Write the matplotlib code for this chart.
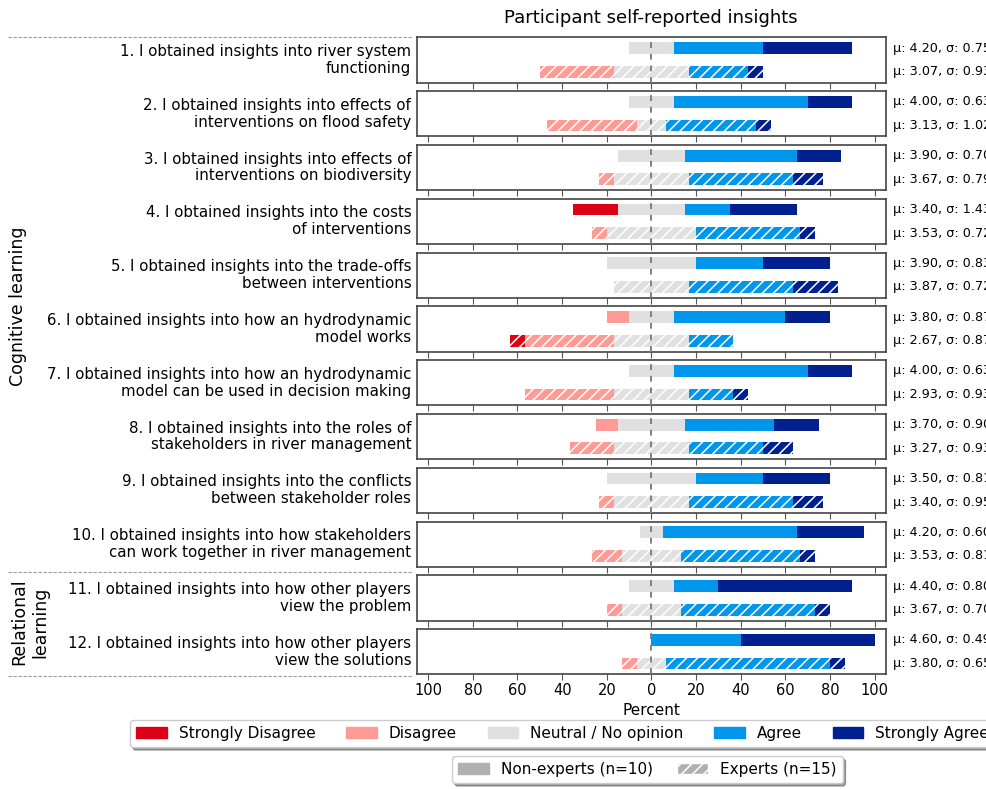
import matplotlib
matplotlib.use("Agg")
import matplotlib.pyplot as plt
from matplotlib.lines import Line2D
from matplotlib.patches import Patch

W, H = 987, 789

questions = [
    "1. I obtained insights into river system\nfunctioning",
    "2. I obtained insights into effects of\ninterventions on flood safety",
    "3. I obtained insights into effects of\ninterventions on biodiversity",
    "4. I obtained insights into the costs\nof interventions",
    "5. I obtained insights into the trade-offs\nbetween interventions",
    "6. I obtained insights into how an hydrodynamic\nmodel works",
    "7. I obtained insights into how an hydrodynamic\nmodel can be used in decision making",
    "8. I obtained insights into the roles of\nstakeholders in river management",
    "9. I obtained insights into the conflicts\nbetween stakeholder roles",
    "10. I obtained insights into how stakeholders\ncan work together in river management",
    "11. I obtained insights into how other players\nview the problem",
    "12. I obtained insights into how other players\nview the solutions",
]

categories = ["Strongly Disagree", "Disagree", "Neutral / No opinion", "Agree", "Strongly Agree"]
colors = ["#dc0016", "#ff9a94", "#e0e0e0", "#0096eb", "#00208f"]

# percent per category (SD, D, N, A, SA)
nonexperts = [
    [0, 0, 20, 40, 40],
    [0, 0, 20, 60, 20],
    [0, 0, 30, 50, 20],
    [20, 0, 30, 20, 30],
    [0, 0, 40, 30, 30],
    [0, 10, 20, 50, 20],
    [0, 0, 20, 60, 20],
    [0, 10, 30, 40, 20],
    [0, 0, 40, 30, 30],
    [0, 0, 10, 60, 30],
    [0, 0, 20, 20, 60],
    [0, 0, 0, 40, 60],
]
experts = [
    [0, 33.3, 33.3, 26.7, 6.7],
    [0, 40.0, 13.3, 40.0, 6.7],
    [0, 6.7, 33.3, 46.7, 13.3],
    [0, 6.7, 40.0, 46.7, 6.7],
    [0, 0, 33.3, 46.7, 20.0],
    [6.7, 40.0, 33.3, 20.0, 0],
    [0, 40.0, 33.3, 20.0, 6.7],
    [0, 20.0, 33.3, 33.3, 13.3],
    [0, 6.7, 33.3, 46.7, 13.3],
    [0, 13.3, 26.7, 53.3, 6.7],
    [0, 6.7, 26.7, 60.0, 6.7],
    [0, 6.7, 13.3, 73.3, 6.7],
]

ne_mu = [4.20, 4.00, 3.90, 3.40, 3.90, 3.80, 4.00, 3.70, 3.50, 4.20, 4.40, 4.60]
ne_sd = [0.75, 0.63, 0.70, 1.43, 0.83, 0.87, 0.63, 0.90, 0.81, 0.60, 0.80, 0.49]
ex_mu = [3.07, 3.13, 3.67, 3.53, 3.87, 2.67, 2.93, 3.27, 3.40, 3.53, 3.67, 3.80]
ex_sd = [0.93, 1.02, 0.79, 0.72, 0.72, 0.87, 0.93, 0.93, 0.95, 0.81, 0.70, 0.65]

plt.rcParams["font.family"] = "DejaVu Sans"
plt.rcParams["hatch.linewidth"] = 1.1
plt.rcParams["hatch.color"] = "white"

fig = plt.figure(figsize=(W / 100, H / 100), dpi=100)

left = 417 / W
width = 469 / W
top0, pitch, ph = 37.3, 53.8, 45.3
ticks = list(range(-100, 101, 20))


def draw_row(ax, y, vals, hatch):
    start = -(vals[0] + vals[1] + vals[2] / 2)
    for v, c in zip(vals, colors):
        if v > 0:
            ax.barh(y, v, left=start, height=0.5, color=c,
                    edgecolor="white" if hatch else c, linewidth=0,
                    hatch=hatch, zorder=2)
        start += v


axes = []
for i, q in enumerate(questions):
    top = top0 + i * pitch
    ax = fig.add_axes([left, 1 - (top + ph) / H, width, ph / H])
    axes.append(ax)
    draw_row(ax, 1, nonexperts[i], None)
    draw_row(ax, 0, experts[i], "///")
    ax.axvline(0, color="#808080", lw=1.4, ls=(0, (3, 3)), zorder=3)
    ax.set_xlim(-105, 105)
    ax.set_ylim(-0.46, 1.46)
    ax.set_yticks([])
    ax.set_xticks(ticks)
    ax.tick_params(axis="x", direction="out", length=4, color="#555555",
                   labelsize=10.5, pad=2)
    for s in ax.spines.values():
        s.set_color("#444444")
        s.set_linewidth(1.2)
    if i < len(questions) - 1:
        ax.set_xticklabels([])
    else:
        ax.set_xticklabels([str(abs(t)) for t in ticks])
        ax.set_xlabel("Percent", fontsize=11, labelpad=4)
    ax.text(-0.012, 0.5, q, transform=ax.transAxes, ha="right", va="center",
            fontsize=10.8, linespacing=1.15)
    tr = ax.get_yaxis_transform()
    ax.text(1.015, 1, f"\u03bc: {ne_mu[i]:.2f}, \u03c3: {ne_sd[i]:.2f}",
            transform=tr, ha="left", va="center", fontsize=9.2, clip_on=False)
    ax.text(1.015, 0, f"\u03bc: {ex_mu[i]:.2f}, \u03c3: {ex_sd[i]:.2f}",
            transform=tr, ha="left", va="center", fontsize=9.2, clip_on=False)

fig.text(651 / W, 1 - 18 / H, "Participant self-reported insights",
         ha="center", va="center", fontsize=13)

# group separators
for ypx in (36.5, 571.5, 675.5):
    fig.add_artist(Line2D([8 / W, 412 / W], [1 - ypx / H] * 2, color="#9a9a9a",
                          lw=0.8, ls=(0, (3, 1.5))))

fig.text(18 / W, 1 - 306 / H, "Cognitive learning", rotation=90,
         ha="center", va="center", fontsize=12.5)
fig.text(30 / W, 1 - 622 / H, "Relational\nlearning", rotation=90,
         ha="center", va="center", fontsize=12.5, multialignment="center")

cat_handles = [Patch(facecolor=c, edgecolor=c) for c in colors]
leg1 = fig.legend(cat_handles, categories, loc="upper left",
                  bbox_to_anchor=(130 / W, 1 - 720 / H), ncol=5, fontsize=11,
                  fancybox=True, shadow=True, borderaxespad=0,
                  handlelength=2.0, columnspacing=2.0, framealpha=1)

grp_handles = [Patch(facecolor="#b0b0b0", edgecolor="#b0b0b0"),
               Patch(facecolor="#b0b0b0", edgecolor="white", hatch="///")]
leg2 = fig.legend(grp_handles, ["Non-experts (n=10)", "Experts (n=15)"],
                  loc="upper left", bbox_to_anchor=(452 / W, 1 - 756 / H),
                  ncol=2, fontsize=11, fancybox=True, shadow=True,
                  borderaxespad=0, handlelength=2.0, columnspacing=1.6,
                  framealpha=1)

fig.savefig("out.png", dpi=100)
